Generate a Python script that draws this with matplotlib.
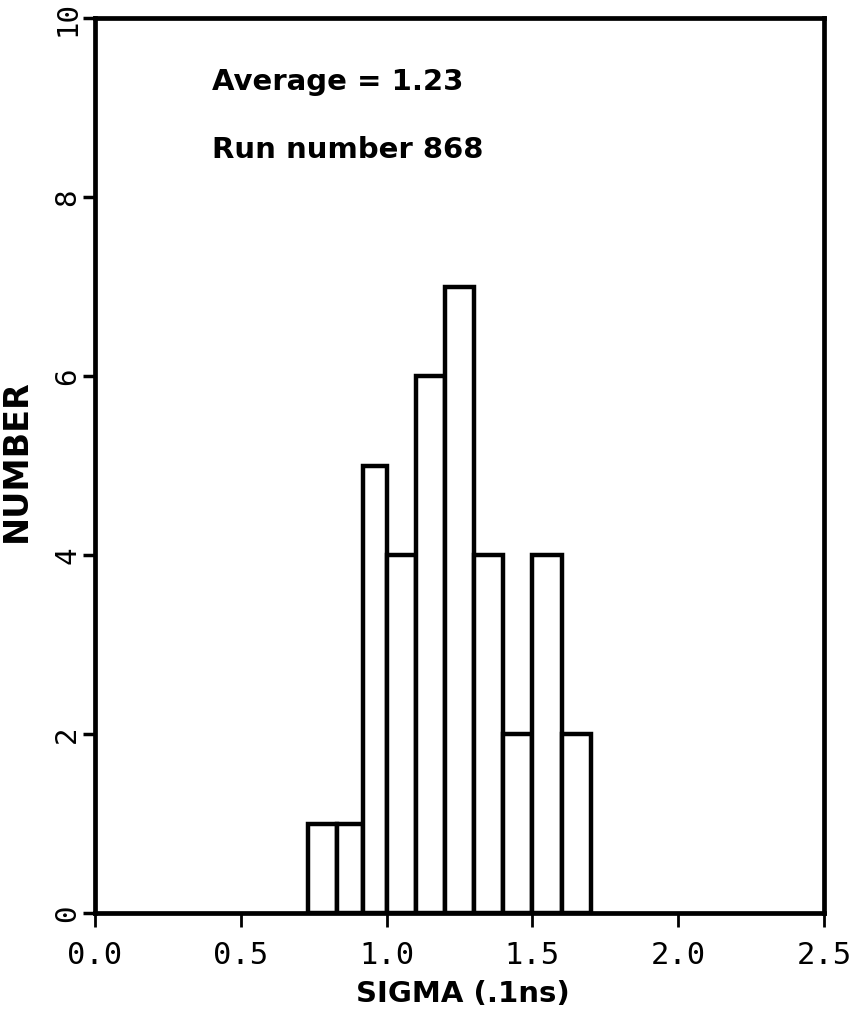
import matplotlib
matplotlib.use("Agg")
import matplotlib.pyplot as plt
import numpy as np

# Histogram data
bin_edges = [0.73, 0.83, 0.92, 1.0, 1.1, 1.2, 1.3, 1.4, 1.5, 1.6, 1.7]
counts = [1, 1, 5, 4, 6, 7, 4, 2, 4, 2]
x_ticks = [0.0, 0.5, 1.0, 1.5, 2.0, 2.5]
x_tick_labels = ["0.0", "0.5", "1.0", "1.5", "2.0", "2.5"]
y_ticks = [0, 2, 4, 6, 8, 10]
y_tick_labels = ["0", "2", "4", "6", "8", "10"]
average = 1.23
run_number = 868

fig = plt.figure(figsize=(8.53, 10.23), dpi=100)
ax = fig.add_axes([95 / 853, 110 / 1023, 729 / 853, 895 / 1023])

lefts = np.array(bin_edges[:-1])
widths = np.diff(bin_edges)
ax.bar(lefts, counts, width=widths, align="edge", facecolor="white",
       edgecolor="black", linewidth=3.2, zorder=2)

ax.set_xlim(0, 2.5)
ax.set_ylim(0, 10)
for s in ax.spines.values():
    s.set_linewidth(3.4)
ax.set_xticks(x_ticks)
ax.set_xticklabels(x_tick_labels, family="DejaVu Sans Mono", fontsize=22)
ax.set_yticks(y_ticks)
ax.set_yticklabels(y_tick_labels, family="DejaVu Sans Mono", fontsize=21,
                   rotation=90, va="center")
ax.tick_params(axis="x", direction="out", length=10, width=2, pad=10)
ax.tick_params(axis="y", direction="out", length=9, width=2.5, pad=1)

ax.set_xlabel("SIGMA (.1ns)", fontsize=21, fontweight="bold")
ax.xaxis.set_label_coords(0.505, -0.075)
ax.set_ylabel("NUMBER", fontsize=24, fontweight="bold")
ax.yaxis.set_label_coords(-0.085, 0.505)

ax.text(0.40, 9.19, f"Average = {average}", fontsize=21, fontweight="bold",
        va="baseline", ha="left")
ax.text(0.40, 8.44, f"Run number {run_number}", fontsize=21, fontweight="bold",
        va="baseline", ha="left")

fig.savefig("out.png", dpi=100)
